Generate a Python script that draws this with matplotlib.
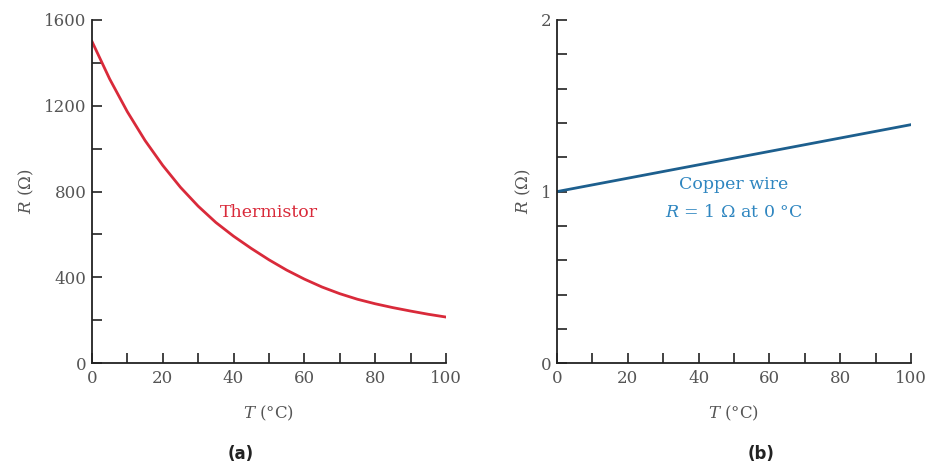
import numpy as np
import matplotlib.pyplot as plt
from matplotlib.ticker import MultipleLocator

# Thermistor curve
temp_therm = [0, 5, 10, 15, 20, 25, 30, 35, 40, 45, 50, 55, 60, 65, 70, 75, 80, 85, 90, 95, 100]
r_therm = [1500, 1325, 1172, 1038, 922, 820, 732, 656, 592, 535, 482, 434, 392, 355, 324, 298, 277, 259, 243, 228, 215]

# Copper wire, R = 1 ohm at 0 C
temp_cu = [0, 100]
r_cu = [1.0, 1.39]

red = '#d92a3a'
blue_line = '#1d5f8e'
blue_text = '#2f86c0'
grey = '#555555'

plt.rcParams['font.family'] = ['DejaVu Serif']
plt.rcParams['mathtext.fontset'] = 'dejavuserif'

fig = plt.figure(figsize=(9.29, 4.65), dpi=100)
ax1 = fig.add_axes([0.099, 0.219, 0.381, 0.738])
ax2 = fig.add_axes([0.5996, 0.219, 0.381, 0.738])


def style_axis(ax):
    for s in ['top', 'right']:
        ax.spines[s].set_visible(False)
    for s in ['left', 'bottom']:
        ax.spines[s].set_linewidth(1.3)
        ax.spines[s].set_color('#222222')
    ax.tick_params(which='both', direction='in', length=7, width=1.2, color='#222222',
                   labelsize=12, labelcolor=grey)
    ax.tick_params(axis='x', pad=5)
    ax.tick_params(axis='y', pad=4)
    ax.xaxis.set_major_locator(MultipleLocator(20))
    ax.xaxis.set_minor_locator(MultipleLocator(10))
    ax.set_xlim(0, 100)
    ax.set_xlabel(r'$T$ (°C)', fontsize=12, color=grey, labelpad=12)
    ax.set_ylabel(r'$R$ ($\Omega$)', fontsize=12, color=grey, labelpad=6)


# (a) thermistor
ax1.plot(temp_therm, r_therm, color=red, lw=2, solid_joinstyle='round')
style_axis(ax1)
ax1.set_ylim(0, 1600)
ax1.yaxis.set_major_locator(MultipleLocator(400))
ax1.yaxis.set_minor_locator(MultipleLocator(200))
ax1.text(36, 704, 'Thermistor', color=red, fontsize=12.5, va='center', ha='left')

# (b) copper wire
ax2.plot(temp_cu, r_cu, color=blue_line, lw=2)
style_axis(ax2)
ax2.set_ylim(0, 2)
ax2.yaxis.set_major_locator(MultipleLocator(1))
ax2.yaxis.set_minor_locator(MultipleLocator(0.2))
ax2.text(50, 1.04, 'Copper wire', color=blue_text, fontsize=12.5, ha='center', va='center')
ax2.text(50, 0.88, r'$R$ = 1 $\Omega$ at 0 °C', color=blue_text, fontsize=12.5, ha='center', va='center')

# panel labels
fig.text(241 / 929, 1 - 454 / 465, '(a)', fontsize=12, fontweight='bold', ha='center', va='center',
         family='DejaVu Sans', color='#222222')
fig.text(761 / 929, 1 - 454 / 465, '(b)', fontsize=12, fontweight='bold', ha='center', va='center',
         family='DejaVu Sans', color='#222222')

fig.savefig('out.png', dpi=100)
